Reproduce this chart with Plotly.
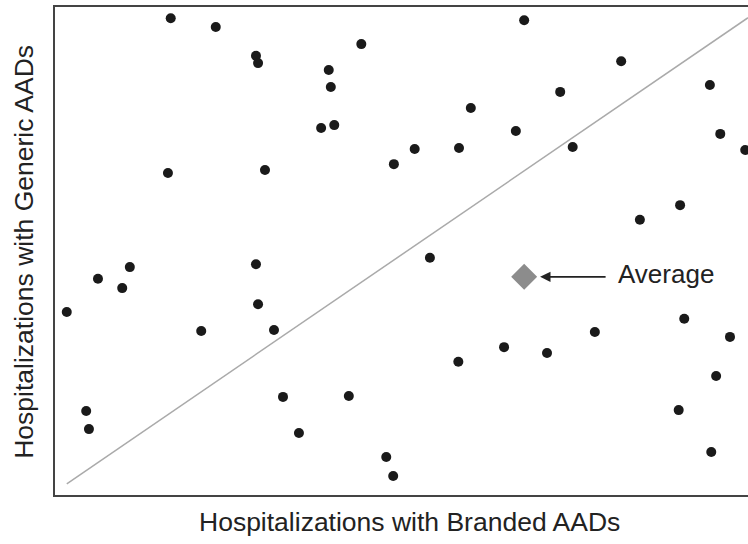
import plotly.graph_objects as go

# Data (arbitrary 0-100 units)
branded = [16.7, 23.2, 29.0, 29.3, 44.2, 39.5, 39.8, 38.4, 40.3, 16.3,
           30.3, 10.8, 29.0, 67.7, 81.7, 94.5, 72.9, 60.0, 66.5, 96.0,
           48.9, 51.9, 58.3, 74.7, 99.6, 90.2, 84.4, 54.1, 6.2, 9.7,
           1.7, 21.1, 29.3, 31.6, 4.5, 4.9, 32.9, 42.4, 35.2, 90.8,
           97.4, 77.9, 64.8, 71.0, 58.2, 95.4, 90.0, 94.7, 47.8, 48.8]
generic = [97.7, 95.9, 90.0, 88.5, 92.4, 87.1, 83.6, 75.2, 75.8, 66.0,
           66.6, 46.7, 47.3, 97.3, 88.9, 84.0, 82.6, 79.3, 74.6, 74.0,
           67.8, 70.9, 71.1, 71.3, 70.7, 59.4, 56.4, 48.6, 44.3, 42.4,
           37.5, 33.6, 39.1, 33.8, 17.2, 13.5, 20.1, 20.3, 12.7, 36.1,
           32.4, 33.4, 30.3, 29.1, 27.3, 24.4, 17.4, 8.8, 7.8, 3.9]
avg_branded = [67.7]
avg_generic = [44.7]
diag_x = [1.7, 100.0]
diag_y = [2.3, 97.8]

x_title = "Hospitalizations with Branded AADs"
y_title = "Hospitalizations with Generic AADs"
avg_label = "Average"

FONT = "Liberation Sans, Arial, Helvetica, sans-serif"
TXT = "#222222"

fig = go.Figure()
fig.add_trace(go.Scatter(x=diag_x, y=diag_y, mode="lines",
                         line=dict(color="#aaaaaa", width=1.5),
                         hoverinfo="skip", showlegend=False))
fig.add_trace(go.Scatter(x=branded, y=generic, mode="markers",
                         marker=dict(size=10, color="#1a1a1a"),
                         showlegend=False))
fig.add_trace(go.Scatter(x=avg_branded, y=avg_generic, mode="markers",
                         marker=dict(size=20, symbol="diamond", color="#8c8c8c"),
                         showlegend=False))

# arrow pointing to the average
fig.add_annotation(x=70.0, y=avg_generic[0], xref="x", yref="y",
                   ax=67, ay=0, text="", showarrow=True,
                   arrowhead=2, arrowsize=1.3, arrowwidth=1.6,
                   arrowcolor=TXT)
fig.add_annotation(x=81.0, y=45.3, xref="x", yref="y", text=avg_label,
                   showarrow=False, xanchor="left", yanchor="middle",
                   font=dict(family=FONT, size=26, color=TXT))
# axis titles
fig.add_annotation(x=0.512, y=-0.055, xref="paper", yref="paper", text=x_title,
                   showarrow=False, xanchor="center", yanchor="middle",
                   font=dict(family=FONT, size=26.5, color=TXT))
fig.add_annotation(x=-0.045, y=0.498, xref="paper", yref="paper", text=y_title,
                   showarrow=False, xanchor="center", yanchor="middle",
                   textangle=-90,
                   font=dict(family=FONT, size=26.5, color=TXT))

fig.update_layout(
    width=748, height=544,
    margin=dict(l=55, r=0, t=7, b=49),
    paper_bgcolor="white", plot_bgcolor="white",
    xaxis=dict(range=[0, 100], showgrid=False, zeroline=False,
               showticklabels=False, ticks="", showline=True,
               linecolor="#444444", linewidth=1.5, mirror=True),
    yaxis=dict(range=[0, 100], showgrid=False, zeroline=False,
               showticklabels=False, ticks="", showline=True,
               linecolor="#444444", linewidth=1.5, mirror=False),
)

fig.write_html("out.html",
               config={"displayModeBar": False},
               post_script="document.body.style.margin='0';document.body.style.overflow='hidden';")
